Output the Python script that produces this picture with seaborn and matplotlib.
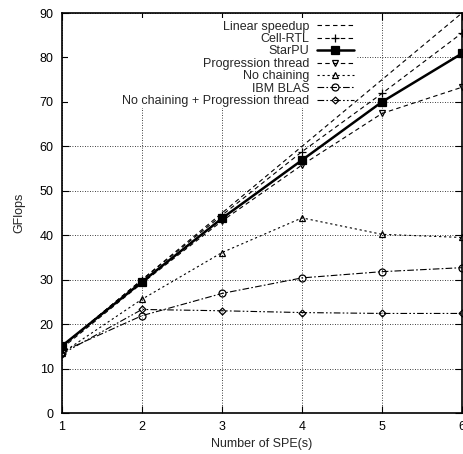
import numpy as np
import pandas as pd
import seaborn as sns
import matplotlib.pyplot as plt
from matplotlib.patches import Rectangle

# Values (GFlops per number of SPEs).
spe = [1, 2, 3, 4, 5, 6]
linear_speedup = [15, 30, 45, 60, 75, 90]
cell_rtl = [15.0, 30.0, 44.5, 58.8, 71.9, 85.5]
starpu = [15.1, 29.5, 43.8, 56.9, 70.0, 80.9]
progression_thread = [14.6, 29.2, 43.2, 55.8, 67.4, 73.3]
no_chaining = [13.5, 25.6, 36.1, 43.9, 40.2, 39.5]
ibm_blas = [13.8, 21.9, 26.9, 30.4, 31.8, 32.7]
no_chaining_progression = [13.3, 23.3, 23.0, 22.6, 22.4, 22.4]

series = [
    ('Linear speedup', linear_speedup),
    ('Cell-RTL', cell_rtl),
    ('StarPU', starpu),
    ('Progression thread', progression_thread),
    ('No chaining', no_chaining),
    ('IBM BLAS', ibm_blas),
    ('No chaining + Progression thread', no_chaining_progression),
]

common = dict(color='black', mec='black', mew=0.9)
styles = {
    'Linear speedup': dict(dashes=(4, 3), lw=0.8, marker=None),
    'Cell-RTL': dict(dashes=(4, 3), lw=0.8, marker='+', ms=6),
    'StarPU': dict(ls='-', lw=1.8, marker='s', ms=5.5),
    'Progression thread': dict(dashes=(4, 3), lw=0.8, marker='v', ms=4.5,
                               mfc='none'),
    'No chaining': dict(dashes=(2, 2.5), lw=0.8, marker='^', ms=4.5,
                        mfc='none'),
    'IBM BLAS': dict(dashes=(6, 2, 1.5, 2), lw=0.8, marker='o', ms=5,
                     mfc='none'),
    'No chaining + Progression thread': dict(dashes=(6, 2, 1.5, 2, 1.5, 2),
                                             lw=0.8, marker='D', ms=3.5,
                                             mfc='none'),
}

df = pd.concat([pd.DataFrame({'SPE': spe, 'GFlops': vals, 'Version': name})
                for name, vals in series], ignore_index=True)

sns.set_theme(style='ticks')
plt.rcParams['font.family'] = ['Liberation Sans', 'DejaVu Sans']
plt.rcParams['font.size'] = 9

fig = plt.figure(figsize=(4.64, 4.54), dpi=100)
ax = fig.add_axes([62 / 464, 41 / 454, 400 / 464, 400 / 454])

for name, _ in series:
    sub = df[df['Version'] == name]
    sns.lineplot(data=sub, x='SPE', y='GFlops', ax=ax, label=name,
                 **common, **styles[name])

ax.set_xlim(1, 6)
ax.set_ylim(0, 90)
ax.set_xticks(spe)
ax.set_yticks(np.arange(0, 91, 10))
ax.grid(True, color='black', ls=(0, (1, 2)), lw=0.6, zorder=0.5)
ax.set_axisbelow(True)
ax.tick_params(direction='in', length=5, width=0.8, top=True, right=True,
               labelsize=9, colors='black', pad=6)
for s in ax.spines.values():
    s.set_linewidth(1.2)
    s.set_color('black')
ax.set_xlabel('Number of SPE(s)', fontsize=9, labelpad=3)
ax.set_ylabel('GFlops', fontsize=9, labelpad=10)

# blank area behind the key, as gnuplot does
ax.add_patch(Rectangle((0.015, 0.7625), 0.7225, 0.225, transform=ax.transAxes,
                       facecolor='white', edgecolor='none', zorder=1))

leg = ax.legend(loc='upper right', bbox_to_anchor=(0.74, 0.99),
                markerfirst=False, frameon=False,
                fontsize=9, handlelength=3.0, handletextpad=0.6,
                labelspacing=0.03, borderpad=0.3, borderaxespad=0)
leg.set_zorder(5)

fig.savefig('out.png', dpi=100)
